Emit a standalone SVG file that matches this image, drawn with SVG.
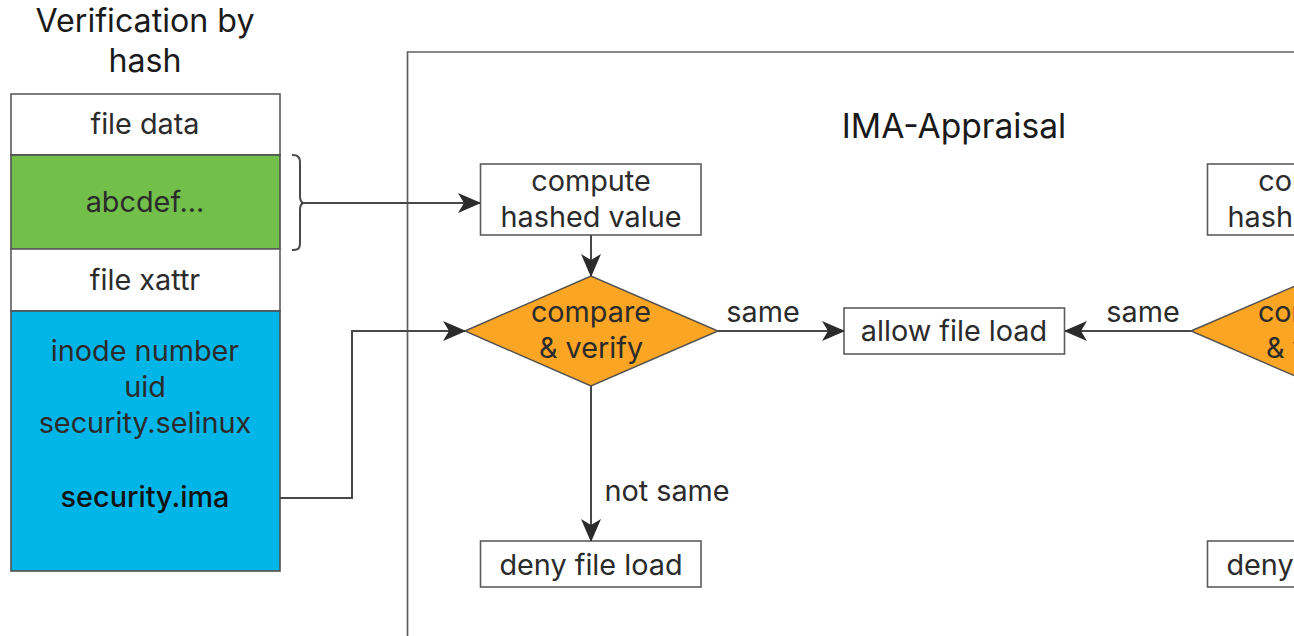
<svg xmlns="http://www.w3.org/2000/svg" width="1294" height="636" viewBox="0 0 1294 636">
<style>
text{font-family:"Inter","Liberation Sans",sans-serif;font-size:28.8px;fill:#2b2b2b;text-anchor:middle}
.t{font-size:32.2px;font-weight:400;fill:#1a1a1a}
.n{fill:#fff;stroke:#5c5c5c;stroke-width:1.6}
.d{fill:#faa524;stroke:#505050;stroke-width:1.4}
.c{fill:none;stroke:#484848;stroke-width:2}
.f{fill:none;stroke:#606060;stroke-width:1.7}
</style>
<defs><marker id="a" markerUnits="userSpaceOnUse" markerWidth="24" markerHeight="20" refX="22" refY="10" orient="auto"><path d="M0 0L22 9.5V10.5L0 20L6 10Z" fill="#2b2b2b"/></marker></defs>
<rect width="1294" height="636" fill="#fff"/>
<g id="frame"><path d="M407.5 636V52H1294" class="f"/></g>
<g id="title"><text class="t" x="145" y="32">Verification by</text><text class="t" x="145" y="72">hash</text></g>
<g id="appraisal-title"><text class="t" x="954" y="138" style="font-size:33.6px">IMA-Appraisal</text></g>
<g id="file-data"><rect class="n" x="11" y="94" width="269" height="61"/><text x="145" y="134">file data</text></g>
<g id="hash-data"><rect x="11" y="155" width="269" height="94" fill="#72bf4a" stroke="#505050" stroke-width="1.6"/><text x="145" y="212">abcdef...</text></g>
<g id="file-xattr"><rect class="n" x="11" y="249" width="269" height="62"/><text x="145" y="290">file xattr</text></g>
<g id="xattrs"><rect x="11" y="311" width="269" height="260" fill="#00b5e8" stroke="#505050" stroke-width="1.6"/><text x="145" y="361">inode number</text><text x="145" y="397">uid</text><text x="145" y="433">security.selinux</text><text x="145" y="507" font-weight="500" style="fill:#111">security.ima</text></g>
<g id="compute1"><rect class="n" x="480.5" y="164" width="220.5" height="71"/><text x="591" y="191">compute</text><text x="591" y="227">hashed value</text></g>
<g id="compare1"><path class="d" d="M465 331L591 276L718 331L591 386Z"/><text x="591" y="322">compare</text><text x="591" y="358">&amp; verify</text></g>
<g id="allow"><rect class="n" x="844" y="308" width="220.5" height="46"/><text x="954" y="341">allow file load</text></g>
<g id="deny1"><rect class="n" x="480.5" y="541" width="220.5" height="46"/><text x="591" y="575">deny file load</text></g>
<g id="compute2"><rect class="n" x="1207.5" y="164" width="220.5" height="71"/><text x="1318" y="191">compute</text><text x="1318" y="227">hashed value</text></g>
<g id="compare2"><path class="d" d="M1191 331L1318 276L1444 331L1318 386Z"/><text x="1318" y="322">compare</text><text x="1318" y="358">&amp; verify</text></g>
<g id="deny2"><rect class="n" x="1207.5" y="541" width="220.5" height="46"/><text x="1318" y="575">deny file load</text></g>
<g id="connectors">
<path class="c" d="M292 155C298 155 300 157 300 163V196C300 200 301 202 303 203C301 204 300 206 300 210V243C300 249 298 250 292 250" stroke="#606060"/>
<path class="c" d="M303 203H480" marker-end="url(#a)"/>
<path class="c" d="M591 235V276" marker-end="url(#a)"/>
<path class="c" d="M280 498H352V331H465" marker-end="url(#a)"/>
<path class="c" d="M718 331H844" marker-end="url(#a)"/>
<path class="c" d="M1191 331H1065" marker-end="url(#a)"/>
<path class="c" d="M591 386V541" marker-end="url(#a)"/>
<text x="763" y="322">same</text><text x="1143" y="322">same</text><text x="667" y="501">not same</text>
</g>
</svg>
